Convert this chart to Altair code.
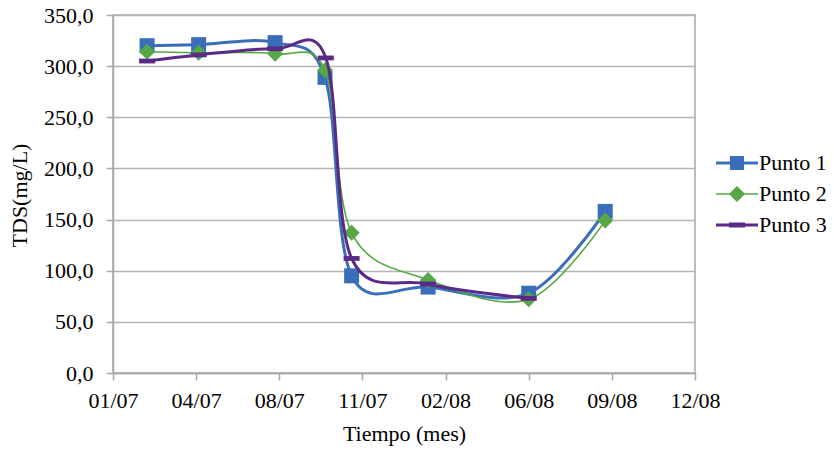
import altair as alt
import pandas as pd
import json

# ---- data ----
tick_labels = ["01/07", "04/07", "08/07", "11/07", "02/08", "06/08", "09/08", "12/08"]
series = ["Punto 1", "Punto 2", "Punto 3"]

mes_p1 = [0.41, 1.03, 1.95, 2.55, 2.87, 3.79, 5.00, 5.92]
tds_p1 = [320, 321, 323, 289, 95, 84, 78, 158]

mes_p2 = [0.41, 1.03, 1.95, 2.55, 2.87, 3.79, 5.00, 5.92]
tds_p2 = [314, 313, 312, 296, 137, 91, 72, 149]

mes_p3 = [0.41, 1.03, 1.95, 2.56, 2.87, 3.79, 5.00]
tds_p3 = [305, 311, 317, 308, 112, 87, 73]

rows = []
for s, xs, ys in zip(series, [mes_p1, mes_p2, mes_p3], [tds_p1, tds_p2, tds_p3]):
    for x, y in zip(xs, ys):
        rows.append({"serie": s, "mes": x, "tds": y})
df = pd.DataFrame(rows)

# ---- styles ----
colors = ["#3A6EBA", "#55A844", "#5B2A86"]
widths = [3, 1.6, 3]
marker_shapes = ["square", "diamond", "M-1,-0.3H1V0.3H-1Z"]
marker_sizes = [225, 256, 256]
legend_paths = [
    "M-3,-0.21H3V0.21H-3Z M-1,-1H1V1H-1Z",
    "M-3,-0.11H3V0.11H-3Z M0,-1.15L1.15,0L0,1.15L-1.15,0Z",
    "M-3,-0.21H3V0.21H-3Z M-1.15,-0.36H1.15V0.36H-1.15Z",
]
FONT = "Liberation Serif"
GRAY = "#A8A8A8"

common_axis = dict(
    labelFont=FONT, titleFont=FONT, labelFontSize=22, titleFontSize=22,
    titleFontWeight="normal", labelColor="black", titleColor="black",
    labelOverlap=False, labelFlush=False,
    domainColor=GRAY, domainWidth=1.5, tickColor=GRAY, tickWidth=1.5,
    tickSize=7,
)

x_enc = alt.X(
    "mes:Q",
    scale=alt.Scale(domain=[0, 7], nice=False, zero=False),
    axis=alt.Axis(
        values=list(range(len(tick_labels))),
        labelExpr=json.dumps(tick_labels) + "[datum.value]",
        title="Tiempo (mes)",
        grid=False,
        labelPadding=10,
        titlePadding=12,
        **common_axis,
    ),
)
y_enc = alt.Y(
    "tds:Q",
    scale=alt.Scale(domain=[0, 350], nice=False),
    axis=alt.Axis(
        values=list(range(0, 351, 50)),
        labelExpr="replace(format(datum.value, '.1f'), '.', ',')",
        title="TDS(mg/L)",
        titleX=-82,
        titleY=180,
        grid=True,
        gridColor="#B5B5B5",
        gridWidth=1.5,
        labelPadding=13,
        **common_axis,
    ),
)

layers = []
for i, s in enumerate(series):
    base = alt.Chart(df).transform_filter(alt.datum.serie == s)
    line = base.mark_line(
        interpolate="cardinal", color=colors[i], strokeWidth=widths[i]
    ).encode(x=x_enc, y=y_enc)
    pts = base.mark_point(
        filled=True, opacity=1, color=colors[i], shape=marker_shapes[i],
        size=marker_sizes[i],
    ).encode(x=x_enc, y=y_enc)
    layers += [line, pts]

legend_props = dict(
    title=None, labelFont=FONT, labelFontSize=22, labelColor="black",
    orient="none", legendX=613, legendY=137, symbolSize=196,
    labelOffset=11, rowPadding=9, symbolStrokeWidth=0,
)
legend_layer = (
    alt.Chart(df)
    .transform_filter("false")
    .mark_point(filled=True, opacity=1, size=196)
    .encode(
        x=x_enc,
        y=y_enc,
        fill=alt.Fill(
            "serie:N",
            scale=alt.Scale(domain=series, range=colors),
            legend=alt.Legend(**legend_props),
        ),
        shape=alt.Shape(
            "serie:N",
            scale=alt.Scale(domain=series, range=legend_paths),
            legend=alt.Legend(**legend_props),
        ),
    )
)

chart = (
    alt.layer(*layers, legend_layer)
    .properties(
        width=582,
        height=358,
        autosize=alt.AutoSizeParams(type="none"),
        padding={"left": 113, "top": 15, "right": 139, "bottom": 81},
    )
    .configure_view(stroke=GRAY, strokeWidth=1.5)
)

chart.save("out.html", embed_options={"renderer": "svg", "actions": False})
